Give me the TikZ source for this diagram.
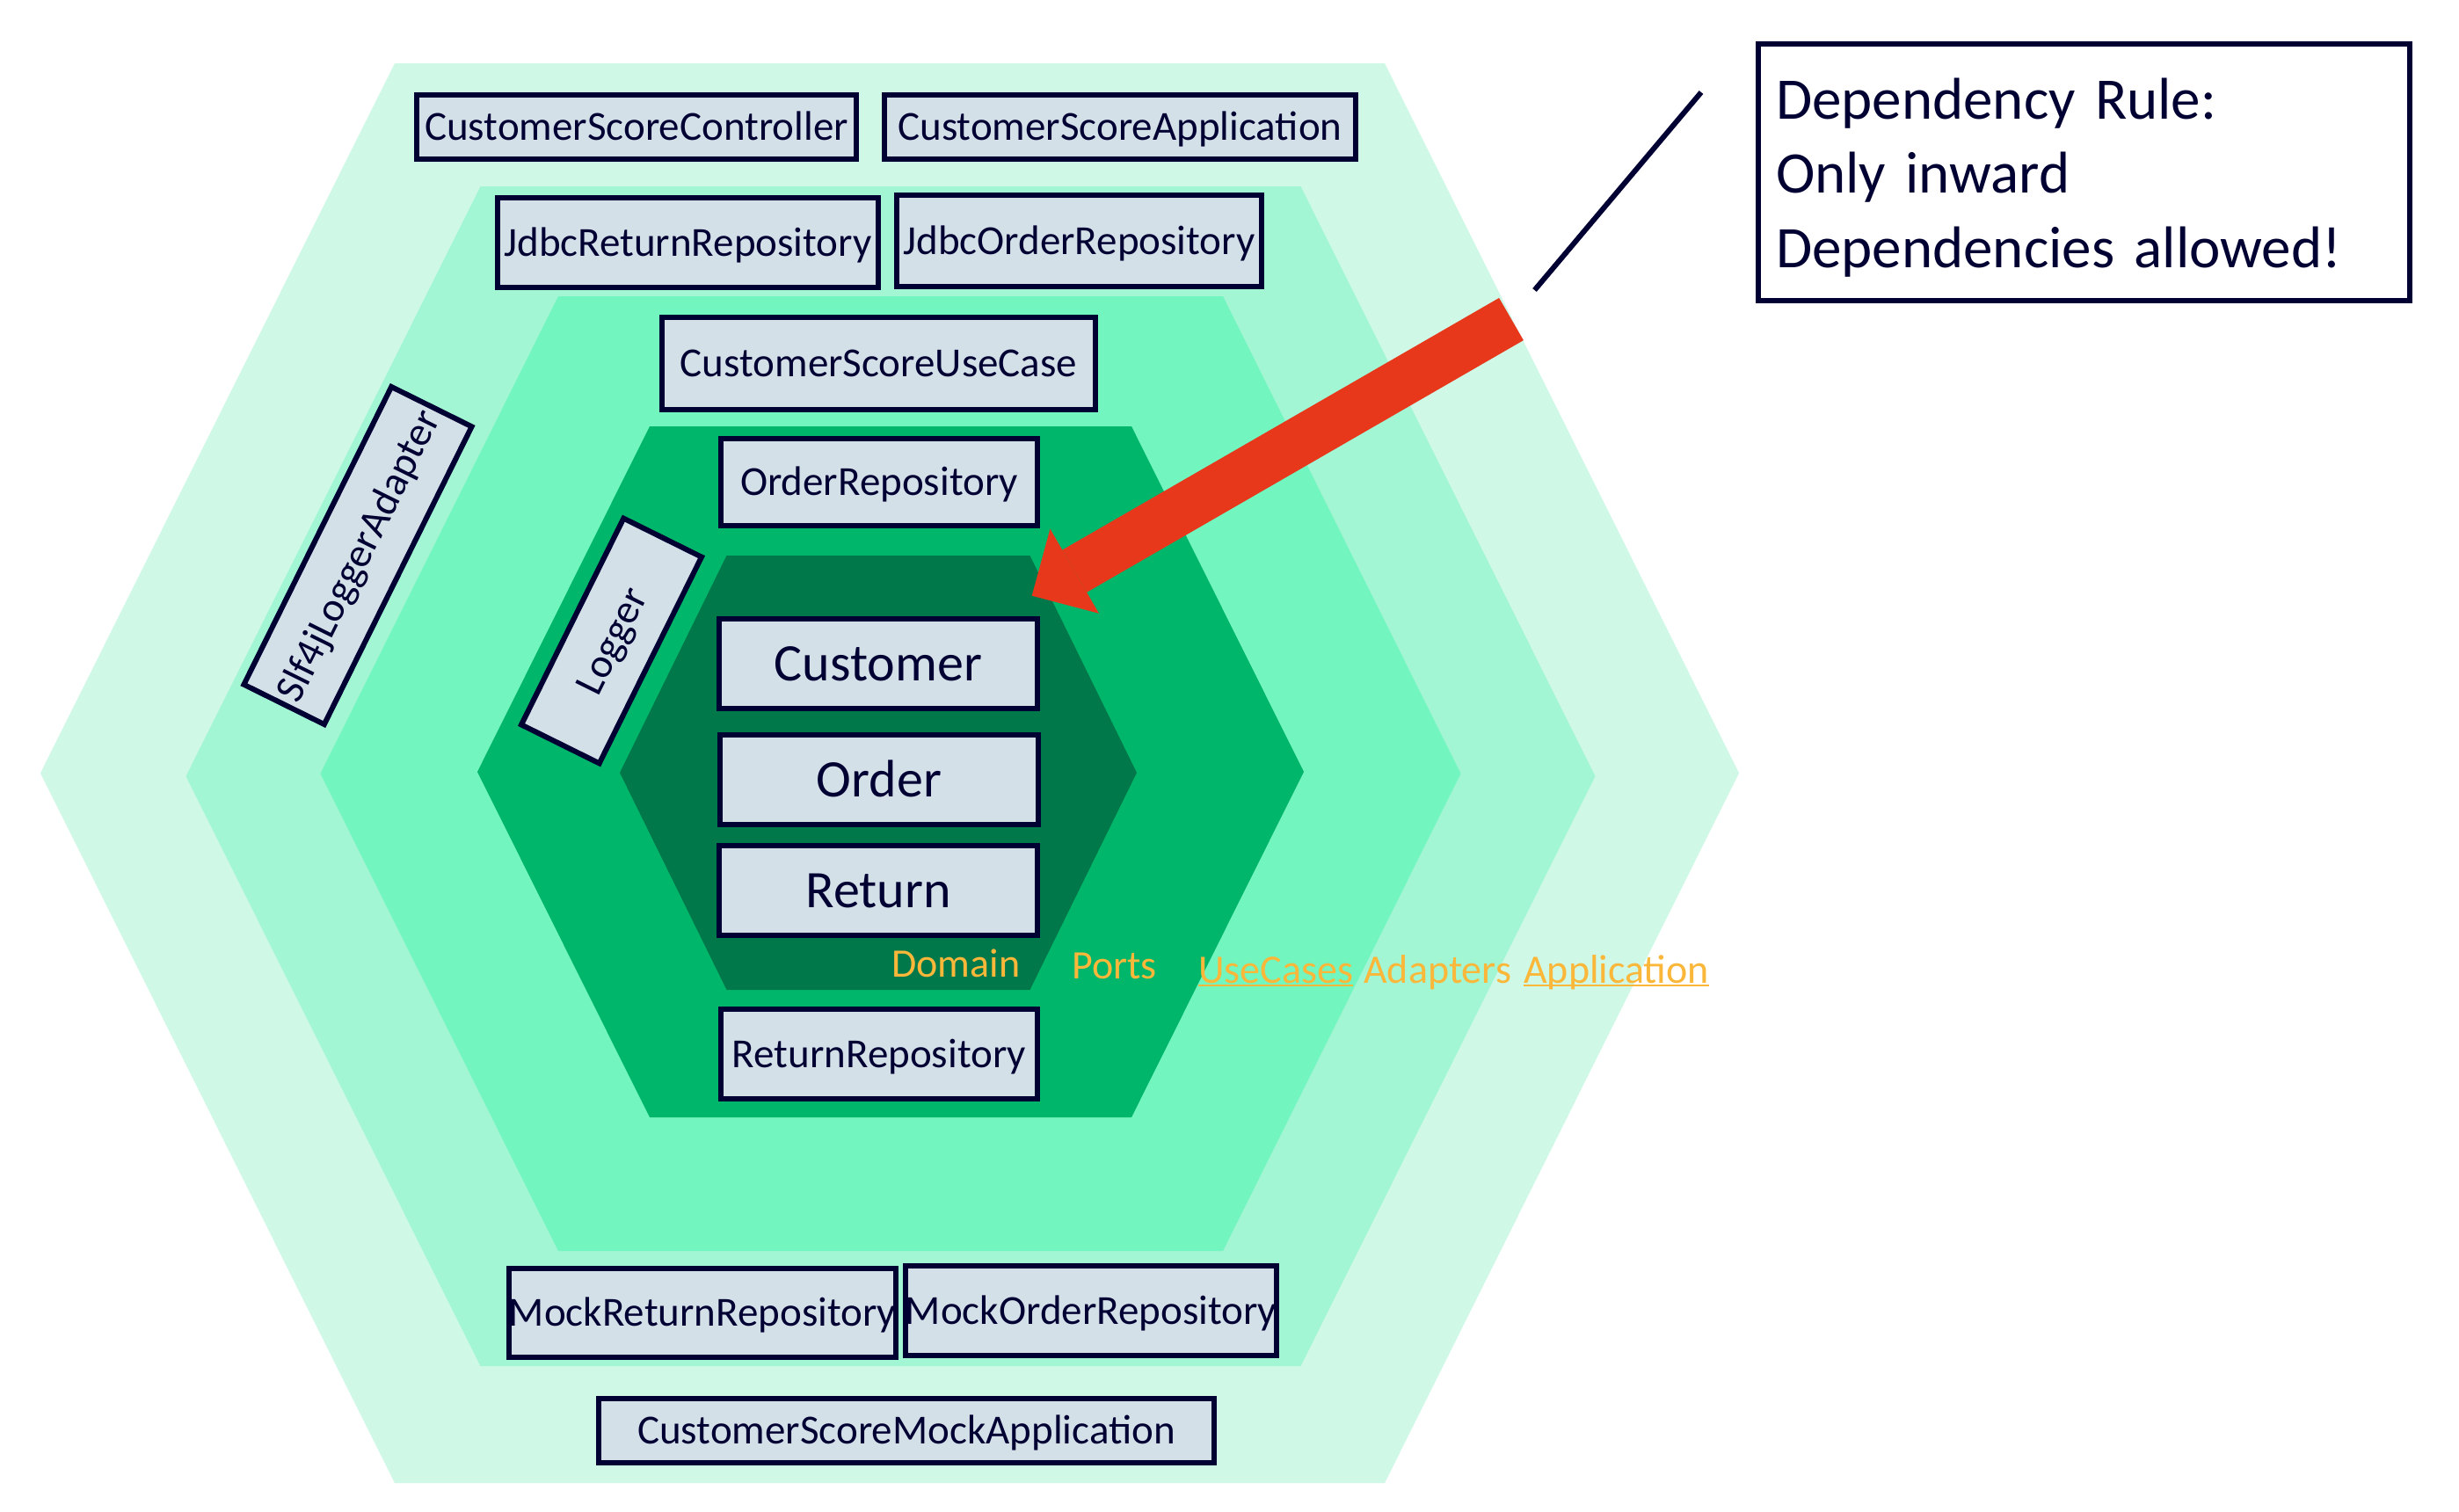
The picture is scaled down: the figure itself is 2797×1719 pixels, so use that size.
\documentclass[tikz,border=0pt]{standalone}
\usepackage{fontspec}
\setmainfont{Carlito}
\usetikzlibrary{arrows.meta}
\definecolor{navy}{HTML}{000033}
\definecolor{boxfill}{HTML}{D3E0E8}
\definecolor{hexA}{HTML}{CFF9E6}
\definecolor{hexB}{HTML}{A2F6D4}
\definecolor{hexC}{HTML}{72F5BE}
\definecolor{hexD}{HTML}{00B66A}
\definecolor{hexE}{HTML}{007849}
\definecolor{arrowred}{HTML}{E8381B}
\definecolor{labelorange}{HTML}{FAB73A}
\begin{document}
\begin{tikzpicture}[x=1pt,y=-1pt,
  box/.style={draw=navy, fill=boxfill, line width=6pt, inner sep=0pt, text=navy,
    font=\fontsize{47}{56}\selectfont, text height=30.3pt, text depth=0pt},
  bigbox/.style={box, font=\fontsize{60}{72}\selectfont, text height=38.6pt},
  layer/.style={text=labelorange, font=\fontsize{46}{55}\selectfont, anchor=base west, inner sep=0pt},
  calloutbox/.style={draw=navy, fill=white, line width=6pt, inner xsep=20pt, inner ysep=0pt,
    text=navy, align=left, font=\fontsize{67}{84.5}\selectfont},
  pointer/.style={navy, line width=6pt},
  rule/.style={arrowred, line width=55.6pt, -{Triangle[width=111pt,length=56pt,line width=0pt]}},
  uline/.style={labelorange, line width=2.5pt}
]
\useasboundingbox (0,0) rectangle (2797,1719);
\fill[white] (0,0) rectangle (2797,1719);
% layers
\fill[hexA] (449,72) -- (1575,72) -- (1978,879.5) -- (1575,1687) -- (449,1687) -- (46,879.5) -- cycle;
\fill[hexB] (546.5,212) -- (1479.5,212) -- (1814.5,883) -- (1479.5,1554) -- (546.5,1554) -- (211.5,883) -- cycle;
\fill[hexC] (635,337) -- (1391,337) -- (1661.5,880) -- (1391,1423) -- (635,1423) -- (364.5,880) -- cycle;
\fill[hexD] (739,485) -- (1287,485) -- (1483,878) -- (1287,1271) -- (739,1271) -- (543,878) -- cycle;
\fill[hexE] (826.5,632) -- (1171.5,632) -- (1293,879) -- (1171.5,1126) -- (826.5,1126) -- (705,879) -- cycle;
% boxes
\node[box, minimum width=500pt, minimum height=73pt] (csc) at (724,144.5) {CustomerScoreController};
\node[box, minimum width=536pt, minimum height=73pt] (csa) at (1274,144.5) {CustomerScoreApplication};
\node[box, minimum width=433pt, minimum height=102pt] (jrr) at (782.5,276) {JdbcReturnRepository};
\node[box, minimum width=415pt, minimum height=104pt] (jor) at (1227.5,274) {JdbcOrderRepository};
\node[box, minimum width=493pt, minimum height=105pt] (csu) at (999.5,413.5) {CustomerScoreUseCase};
\node[box, minimum width=360pt, minimum height=99pt] (orep) at (1000,548.5) {OrderRepository};
\node[bigbox, minimum width=362pt, minimum height=102pt] (cust) at (999,755) {Customer};
\node[bigbox, minimum width=362pt, minimum height=102pt] (ord) at (1000,887) {Order};
\node[bigbox, minimum width=362pt, minimum height=102pt] (ret) at (999,1013) {Return};
\node[box, minimum width=360pt, minimum height=102pt] (rrep) at (1000,1199) {ReturnRepository};
\node[box, minimum width=440pt, minimum height=101pt] (mrr) at (799,1493.5) {MockReturnRepository};
\node[box, minimum width=418pt, minimum height=102pt] (mor) at (1241,1491) {MockOrderRepository};
\node[box, minimum width=700pt, minimum height=73pt] (csm) at (1031,1627.5) {CustomerScoreMockApplication};
\node[box, minimum width=378pt, minimum height=102pt, rotate=63.65] (slf) at (407,632) {Slf4jLoggerAdapter};
\node[box, minimum width=262pt, minimum height=99pt, rotate=63.65] (log) at (695.5,729) {Logger};
% layer labels
\node[layer] (ldom) at (1014,1111.7) {Domain};
\node[layer] (lport) at (1219,1113) {Ports};
\node[layer] (luse) at (1363,1118) {UseCases};
\node[layer] (ladp) at (1551,1118) {Adapters};
\node[layer] (lapp) at (1733,1118) {Application};
\draw[uline] ([yshift=-3pt]luse.base west) -- ([yshift=-3pt]luse.base east);
\draw[uline] ([yshift=-3pt]lapp.base west) -- ([yshift=-3pt]lapp.base east);
% dependency arrow
\coordinate (atail) at (1719,363);
\coordinate (atip) at (1173.7,677.7);
\draw[rule] (atail) -- (atip);
% callout
\node[calloutbox, minimum width=741pt, minimum height=292pt, text width=701pt] (note) at (2370.5,196)
  {\raisebox{-6.7pt}[\height][\depth]{\begin{tabular}{@{}l@{}}Dependency Rule:\\Only inward\\Dependencies allowed!\end{tabular}}};
\coordinate (p1) at (1935,105);
\coordinate (p2) at (1745.5,330);
\draw[pointer] (p1) -- (p2);
\end{tikzpicture}
\end{document}
